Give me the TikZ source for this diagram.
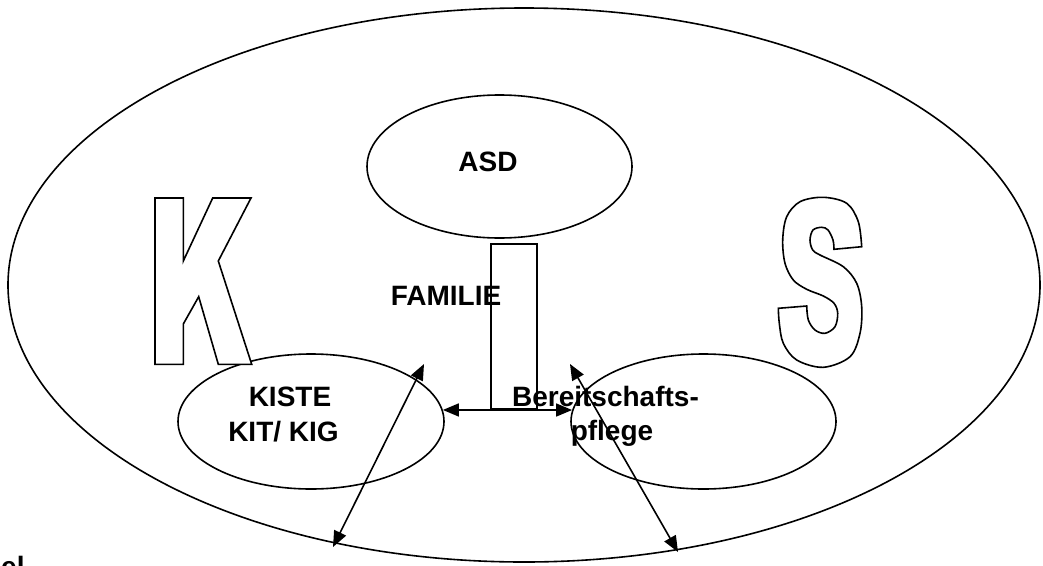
\documentclass[tikz,border=0pt]{standalone}
\usepackage{fontspec}
\setmainfont{Liberation Sans}
\usetikzlibrary{shapes.geometric,arrows.meta}
\tikzset{
  oval/.style={draw, ellipse, inner sep=0pt, line width=1.6pt},
  lbl/.style={font=\fontsize{28}{32}\selectfont\bfseries, inner sep=0pt, anchor=base},
  outline/.style={draw, line width=1.6pt, fill=white, line join=miter},
  dblarrow/.style={line width=1.6pt, {Triangle[length=16pt,width=13pt]}-{Triangle[length=16pt,width=13pt]}}
}
\begin{document}
\begin{tikzpicture}[x=1pt,y=-1pt]
\useasboundingbox (0,0) rectangle (1043,565);
% big ellipse
\node[oval, minimum width=1032pt, minimum height=554pt] (outer) at (524,285) {};
% inner ellipses
\node[oval, minimum width=265pt, minimum height=143pt] (asd) at (499.5,166.5) {};
\node[oval, minimum width=266pt, minimum height=135pt] (kiste) at (311,421.5) {};
\node[oval, minimum width=265pt, minimum height=135pt] (bp) at (703.5,421.5) {};
% letter K
\path[outline] (155,198) -- (183.3,198) -- (183.3,261) -- (212.7,198) -- (251,198) -- (218.3,261)
  -- (251.7,364.3) -- (218.3,364.3) -- (198.7,296.7) -- (183.3,324) -- (183.3,364.3) -- (155,364.3) -- cycle;
% letter I
\node[draw, line width=1.6pt, minimum width=46pt, minimum height=165pt, inner sep=0pt] (ibar) at (514,326.5) {};
% letter S
\path[outline] plot[smooth, tension=0.55] coordinates {(834,249.3) (833,240) (828,230) (821.7,227.3) (813,230) (810,240) (812.7,250) (820,255) (843.3,266.7) (856.7,283.3) (861.7,306.7) (860,333.3) (850,356.7) (823.3,367.3) (796.7,360) (783.3,343.3) (779.3,323.3) (778.3,308.3)}
  -- plot[smooth, tension=0.55] coordinates {(806.7,306) (808.3,320) (815,330) (825,333.3) (835,326.7) (837.7,313.3) (834,303.3) (823.3,296) (806.7,289.3) (793.3,280) (785,263.3) (782.7,240) (786.7,216.7) (800,201.7) (823.3,197.3) (846.7,203.3) (858.3,221.7) (861.7,246.7)}
  -- cycle;
% texts
\node[lbl] (tasd) at (488,171.7) {ASD};
\node[lbl] (tfam) at (446,305) {FAMILIE};
\node[lbl] (tkiste) at (290,406.7) {KISTE};
\node[lbl] (tkit) at (283.5,441.7) {KIT/ KIG};
\node[lbl] (tbereit) at (605.5,406.7) {Bereitschafts-};
\node[lbl] (tpflege) at (612,440) {pflege};
\node[lbl, anchor=base west] (tel) at (1,576) {el};
% arrows
\coordinate (lefttop) at (424,364);
\coordinate (leftbot) at (333,547);
\coordinate (righttop) at (570,364);
\coordinate (rightbot) at (678,552);
\draw[dblarrow] (kiste.5) -- (bp.175);
\draw[dblarrow] (leftbot) -- (lefttop);
\draw[dblarrow] (righttop) -- (rightbot);
\end{tikzpicture}
\end{document}
